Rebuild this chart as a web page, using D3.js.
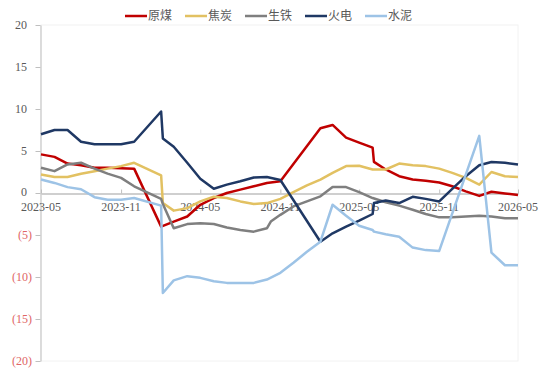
<!DOCTYPE html>
<html><head><meta charset="utf-8">
<script src="https://cdn.jsdelivr.net/npm/d3@7"></script>
<style>body{margin:0;background:#fff}svg{display:block}</style>
</head><body>
<svg id="chart" width="542" height="369"></svg>
<script>
const seriesNames = ["原煤","焦炭","生铁","火电","水泥"];
const seriesColors = ["#C00000","#E2C162","#7F7F7F","#1F3864","#9DC3E6"];
const yTicks = [20,15,10,5,0,-5,-10,-15,-20];
const xTickLabels = ["2023-05","2023-11","2024-05","2024-11","2025-05","2025-11","2026-05"];

const coal = [["2023-05",4.6],["2023-06",4.3],["2023-07",3.5],["2023-08",3.3],["2023-09",3.0],["2023-10",3.0],["2023-11",2.95],["2023-12",2.9],["2024-02",-4.0],["2024-03",-3.4],["2024-04",-2.8],["2024-05",-1.4],["2024-06",-0.6],["2024-07",0.0],["2024-08",0.4],["2024-09",0.8],["2024-10",1.2],["2024-11",1.4],["2025-02",7.7],["2025-03",8.1],["2025-04",6.6],["2025-05",6.0],["2025-06",5.4],["2025-06-04",3.7],["2025-07",2.8],["2025-08",2.0],["2025-09",1.6],["2025-10",1.45],["2025-11",1.25],["2025-12",0.8],["2026-01",0.2],["2026-02",-0.35],["2026-03",0.15],["2026-04",-0.05],["2026-05",-0.25]];
const coke = [["2023-05",2.2],["2023-06",1.9],["2023-07",1.9],["2023-08",2.3],["2023-09",2.6],["2023-10",2.9],["2023-11",3.2],["2023-12",3.6],["2024-02",2.1],["2024-02-05",-1.2],["2024-03",-2.1],["2024-04",-1.8],["2024-05",-1.0],["2024-06",-0.45],["2024-07",-0.6],["2024-08",-1.0],["2024-09",-1.3],["2024-10",-1.2],["2024-11",-0.7],["2024-12",0.1],["2025-01",0.9],["2025-02",1.6],["2025-03",2.4],["2025-04",3.2],["2025-05",3.25],["2025-06",2.8],["2025-07",2.8],["2025-08",3.5],["2025-09",3.3],["2025-10",3.2],["2025-11",2.9],["2025-12",2.4],["2026-01",1.8],["2026-02",1.0],["2026-03",2.5],["2026-04",2.0],["2026-05",1.9]];
const pigIron = [["2023-05",3.0],["2023-06",2.6],["2023-07",3.4],["2023-08",3.6],["2023-09",2.9],["2023-10",2.3],["2023-11",1.8],["2023-12",0.8],["2024-02",-0.7],["2024-02-05",-1.3],["2024-03",-4.2],["2024-04",-3.7],["2024-05",-3.6],["2024-06",-3.7],["2024-07",-4.1],["2024-08",-4.4],["2024-09",-4.6],["2024-10",-4.2],["2024-10-10",-3.4],["2024-11",-2.6],["2024-12",-1.6],["2025-01",-1.0],["2025-02",-0.4],["2025-03",0.7],["2025-04",0.7],["2025-05",0.1],["2025-06",-0.6],["2025-07",-1.1],["2025-08",-1.5],["2025-09",-2.0],["2025-10",-2.5],["2025-11",-2.9],["2025-12",-2.9],["2026-01",-2.8],["2026-02",-2.7],["2026-03",-2.8],["2026-04",-3.0],["2026-05",-3.0]];
const thermal = [["2023-05",7.0],["2023-06",7.5],["2023-07",7.5],["2023-08",6.1],["2023-09",5.8],["2023-10",5.8],["2023-11",5.8],["2023-12",6.1],["2024-02",9.7],["2024-02-05",6.5],["2024-03",5.5],["2024-04",3.6],["2024-05",1.7],["2024-06",0.5],["2024-07",1.0],["2024-08",1.4],["2024-09",1.85],["2024-10",1.9],["2024-11",1.55],["2025-02",-5.8],["2025-03",-4.8],["2025-04",-4.0],["2025-05",-3.3],["2025-06",-2.5],["2025-06-04",-1.2],["2025-07",-0.9],["2025-08",-1.2],["2025-09",-0.45],["2025-10",-0.7],["2025-11",-1.0],["2025-12",0.5],["2026-01",2.0],["2026-02",3.3],["2026-03",3.7],["2026-04",3.6],["2026-05",3.4]];
const cement = [["2023-05",1.6],["2023-06",1.2],["2023-07",0.7],["2023-08",0.45],["2023-09",-0.5],["2023-10",-0.8],["2023-11",-0.8],["2023-12",-0.6],["2024-02",-1.5],["2024-02-05",-11.9],["2024-03",-10.4],["2024-04",-9.9],["2024-05",-10.1],["2024-06",-10.5],["2024-07",-10.7],["2024-08",-10.7],["2024-09",-10.7],["2024-10",-10.3],["2024-11",-9.5],["2024-12",-8.3],["2025-01",-7.0],["2025-02",-5.8],["2025-03",-1.4],["2025-04",-2.7],["2025-05",-3.9],["2025-06",-4.4],["2025-06-04",-4.6],["2025-07",-4.9],["2025-08",-5.2],["2025-09",-6.5],["2025-10",-6.8],["2025-11",-6.9],["2026-02",6.8],["2026-03",-7.1],["2026-04",-8.6],["2026-05",-8.6]];

const allSeries = [coal, coke, pigIron, thermal, cement];

const parse = s => s.length === 7 ? d3.timeParse("%Y-%m")(s) : d3.timeParse("%Y-%m-%d")(s);

const svg = d3.select("#chart");
const x = d3.scaleTime().domain([parse("2023-05"), parse("2026-05")]).range([41, 518]);
const y = d3.scaleLinear().domain([-20, 20]).range([361, 25]);

// faint plot border
svg.append("rect").attr("x", 41).attr("y", 25).attr("width", 477).attr("height", 336)
  .attr("fill", "none").attr("stroke", "#F2F2F2").attr("stroke-width", 1);

// y axis
const yAxis = svg.append("g").attr("transform", "translate(40.5,0)")
  .call(d3.axisLeft(y).tickValues(yTicks).tickSize(5).tickSizeOuter(0).tickFormat(""));
yAxis.select(".domain").attr("stroke", "#BFBFBF");
yAxis.selectAll(".tick line").attr("stroke", "#BFBFBF");

svg.append("g").selectAll("text").data(yTicks).join("text")
  .attr("x", d => d < 0 ? 32 : 27)
  .attr("y", d => d === 0 ? y(d) - 1 : y(d))
  .attr("dy", "0.35em")
  .attr("text-anchor", "end")
  .attr("font-family", "'Liberation Serif', serif")
  .attr("font-size", 12)
  .attr("fill", d => d < 0 ? "#E06666" : "#595959")
  .text(d => d < 0 ? "(" + Math.abs(d) + ")" : d);

// x axis at zero
const xTicks = xTickLabels.map(parse);
const xAxis = svg.append("g").attr("transform", `translate(0,${Math.round(y(0)) + 0.5})`)
  .call(d3.axisTop(x).tickValues(xTicks).tickSize(4).tickSizeOuter(0).tickFormat(""));
xAxis.select(".domain").attr("stroke", "#BFBFBF").attr("stroke-width", 1.5);
xAxis.selectAll(".tick line").attr("stroke", "#BFBFBF");

svg.append("g").selectAll("text").data(xTicks).join("text")
  .attr("x", d => x(d))
  .attr("y", y(0) + 18)
  .attr("text-anchor", "middle")
  .attr("font-family", "'Liberation Serif', serif")
  .attr("font-size", 12)
  .attr("fill", "#595959")
  .text(d => d3.timeFormat("%Y-%m")(d));

// lines
const line = d3.line().x(d => x(parse(d[0]))).y(d => y(d[1]));
allSeries.forEach((s, i) => {
  svg.append("path").datum(s).attr("d", line)
    .attr("fill", "none").attr("stroke", seriesColors[i])
    .attr("stroke-width", 2.5).attr("stroke-linejoin", "round");
});

// legend
const legendX = [125, 185, 245, 305, 365];
const lg = svg.append("g");
seriesNames.forEach((n, i) => {
  lg.append("line").attr("x1", legendX[i]).attr("x2", legendX[i] + 22)
    .attr("y1", 16).attr("y2", 16).attr("stroke", seriesColors[i]).attr("stroke-width", 2.5);
  lg.append("text").attr("x", legendX[i] + 23).attr("y", 16).attr("dy", "0.35em")
    .attr("font-family", "'Noto Sans CJK SC', sans-serif").attr("font-size", 12)
    .attr("fill", "#595959").text(n);
});
</script>
</body></html>
